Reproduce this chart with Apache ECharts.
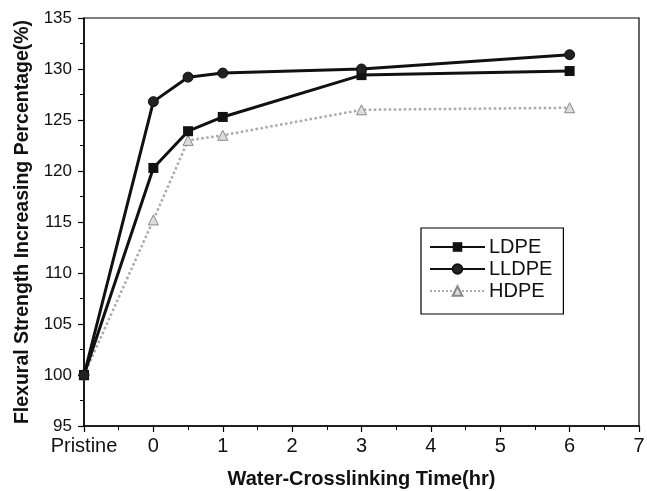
<!DOCTYPE html>
<html><head><meta charset="utf-8">
<script src="https://cdn.jsdelivr.net/npm/echarts@6/dist/echarts.min.js"></script>
<style>html,body{margin:0;padding:0;background:#fff}#c{width:647px;height:491px}</style>
</head><body><div id="c"></div>
<script>
const times = [-1, 0, 0.5, 1, 3, 6];
const ldpe = [100, 120.3, 123.9, 125.3, 129.4, 129.8];
const lldpe = [100, 126.8, 129.2, 129.6, 130.0, 131.4];
const hdpe = [100, 115.2, 123.0, 123.5, 126.0, 126.2];
const xTickLabels = {"-1": "Pristine"};

const pairs = v => times.map((t, i) => [t, v[i]]);
const font = "Liberation Sans, Arial, sans-serif";
const chart = echarts.init(document.getElementById('c'));
chart.setOption({
  animation: false,
  backgroundColor: '#fff',
  grid: {left: 84, right: 8, top: 18, bottom: 65, outerBoundsMode: 'none', containLabel: false,
         show: true, borderColor: '#000', borderWidth: 1.2, backgroundColor: 'transparent'},
  xAxis: {
    type: 'value', min: -1, max: 7, interval: 1,
    name: 'Water-Crosslinking Time(hr)', nameLocation: 'middle', nameGap: 43,
    nameTextStyle: {fontFamily: font, fontWeight: 'bold', fontSize: 20, color: '#111'},
    axisLine: {onZero: false, lineStyle: {color: '#000', width: 1.5}},
    axisTick: {length: 6, lineStyle: {color: '#000', width: 1.2}},
    minorTick: {show: true, splitNumber: 2, length: 4, lineStyle: {color: '#000'}},
    splitLine: {show: false},
    axisLabel: {fontFamily: font, fontSize: 20, color: '#111', margin: 10,
      formatter: v => (xTickLabels[String(v)] !== undefined ? xTickLabels[String(v)] : String(v))}
  },
  yAxis: {
    type: 'value', min: 95, max: 135, interval: 5,
    name: 'Flexural Strength Increasing Percentage(%)', nameLocation: 'middle', nameGap: 51,
    nameTextStyle: {fontFamily: font, fontWeight: 'bold', fontSize: 19.5, color: '#111'},
    axisLine: {show: true, onZero: false, lineStyle: {color: '#000', width: 1.5}},
    axisTick: {show: true, length: 6, lineStyle: {color: '#000', width: 1.2}},
    minorTick: {show: true, splitNumber: 2, length: 4, lineStyle: {color: '#000'}},
    splitLine: {show: false},
    axisLabel: {fontFamily: font, fontSize: 17, color: '#111', margin: 12}
  },
  legend: {
    orient: 'vertical', left: 421, top: 228, itemGap: 2,
    itemWidth: 55, itemHeight: 12,
    borderColor: '#000', borderWidth: 1.2, padding: [9, 11, 13, 8],
    textStyle: {fontFamily: font, fontSize: 20, color: '#111', padding: [0, 0, 0, -1]},
    data: ['LDPE', 'LLDPE', 'HDPE']
  },
  series: [
    {name: 'LDPE', type: 'line', data: pairs(ldpe), symbol: 'rect', symbolSize: 10,
     lineStyle: {color: '#111', width: 3}, itemStyle: {color: '#111'}, z: 3},
    {name: 'LLDPE', type: 'line', data: pairs(lldpe), symbol: 'circle', symbolSize: 10,
     lineStyle: {color: '#111', width: 3}, itemStyle: {color: '#222', borderColor: '#111', borderWidth: 1}, z: 4},
    {name: 'HDPE', type: 'line', data: pairs(hdpe), symbol: 'triangle', symbolSize: 10,
     lineStyle: {color: '#aaa', width: 2.5, type: 'dotted'}, itemStyle: {color: '#ddd', borderColor: '#888', borderWidth: 1}, z: 2}
  ]
});
</script></body></html>
